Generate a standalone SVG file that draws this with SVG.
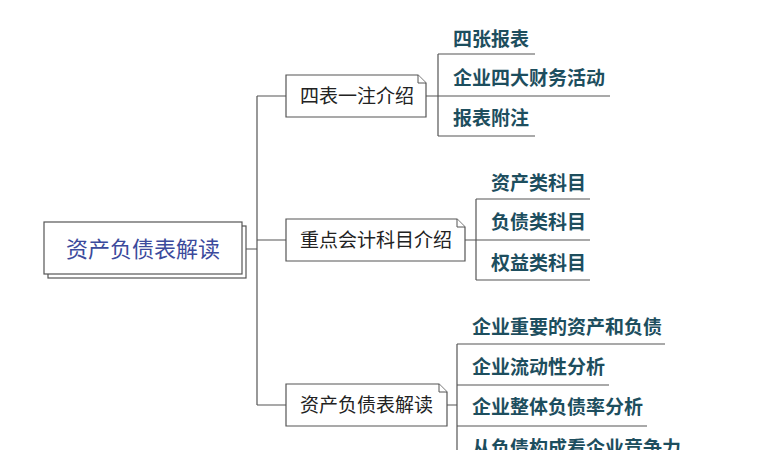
<svg xmlns="http://www.w3.org/2000/svg" width="776" height="450" viewBox="0 0 776 450">
<style>
.ln{fill:none;stroke:#555;stroke-width:1.2}
.box{fill:#fff;stroke:#555;stroke-width:1.2}
.fold{fill:#fff;stroke:#555;stroke-width:1}
.t1{font-family:"Noto Sans CJK SC","Noto Sans",sans-serif;font-size:19px;fill:#222}
.t2{font-family:"Noto Sans CJK SC","Noto Sans",sans-serif;font-size:19px;font-weight:bold;fill:#1d4e5e}
.t0{font-family:"Noto Sans CJK SC","Noto Sans",sans-serif;font-size:22px;fill:#3b4a9c}
</style>
<rect width="776" height="450" fill="#fff"/>
<g id="connectors">
<path class="ln" d="M242,249 H257 M257,96 V405 M257,96 H286 M257,240 H286 M257,405 H286"/>
<path class="ln" d="M426,96 H438 M438,54 V136 M438,54 H535 M438,96 H610 M438,136 H535"/>
<path class="ln" d="M465,240 H476 M476,199 V280 M476,199 H590 M476,240 H590 M476,280 H590"/>
<path class="ln" d="M447,405 H457 M457,344 V450 M457,344 H665 M457,385 H609 M457,426 H647"/>
</g>
<g id="root">
<rect class="box" x="48" y="226" width="198" height="52"/>
<rect class="box" x="44" y="222" width="198" height="52"/>
<text class="t0" x="143" y="257" text-anchor="middle">资产负债表解读</text>
</g>
<g id="n1">
<path class="box" d="M286,75 H418 L426,83 V117 H286 Z"/>
<path class="fold" d="M418,75 V83 H426"/>
<text class="t1" x="300" y="103">四表一注介绍</text>
</g>
<g id="n2">
<path class="box" d="M286,219 H457 L465,227 V261 H286 Z"/>
<path class="fold" d="M457,219 V227 H465"/>
<text class="t1" x="300" y="247">重点会计科目介绍</text>
</g>
<g id="n3">
<path class="box" d="M286,384 H439 L447,392 V426 H286 Z"/>
<path class="fold" d="M439,384 V392 H447"/>
<text class="t1" x="300" y="412">资产负债表解读</text>
</g>
<g id="c11"><text class="t2" x="453" y="46">四张报表</text></g>
<g id="c12"><text class="t2" x="453" y="85">企业四大财务活动</text></g>
<g id="c13"><text class="t2" x="453" y="125">报表附注</text></g>
<g id="c21"><text class="t2" x="491" y="190">资产类科目</text></g>
<g id="c22"><text class="t2" x="491" y="229">负债类科目</text></g>
<g id="c23"><text class="t2" x="491" y="270">权益类科目</text></g>
<g id="c31"><text class="t2" x="472" y="334">企业重要的资产和负债</text></g>
<g id="c32"><text class="t2" x="472" y="374">企业流动性分析</text></g>
<g id="c33"><text class="t2" x="472" y="414">企业整体负债率分析</text></g>
<g id="c34"><text class="t2" x="472" y="455">从负债构成看企业竞争力</text></g>
</svg>
